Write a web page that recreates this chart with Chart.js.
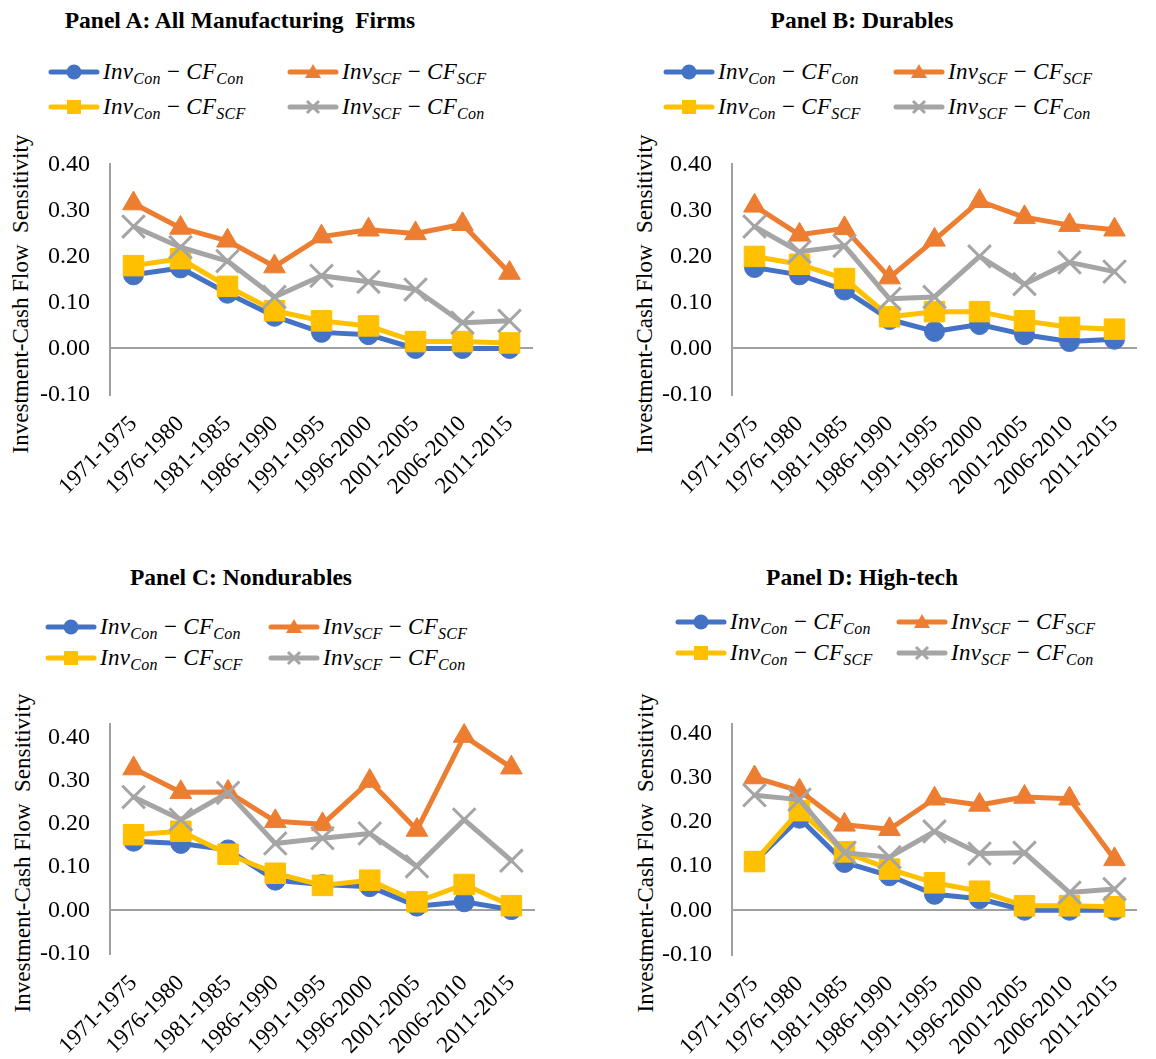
<!DOCTYPE html>
<html>
<head>
<meta charset="utf-8">
<script src="https://cdn.jsdelivr.net/npm/chart.js@4.4.0/dist/chart.umd.min.js"></script>
<style>
  body { margin: 0; background: #fff; }
  #wrap { position: relative; width: 1156px; height: 1059px; overflow: hidden; font-family: "Liberation Serif", Tinos, "Nimbus Roman", "DejaVu Serif", serif; }
  .ptitle { position: absolute; font-weight: bold; font-size: 23.5px; line-height: 1; transform: translateX(-50%); white-space: pre; color: #000; }
  .ytitle { position: absolute; font-size: 23px; line-height: 1; white-space: pre; color: #000; transform: translate(-50%, -50%) rotate(-90deg); }
  .leg { position: absolute; display: flex; align-items: center; height: 30px; white-space: nowrap; font-size: 23px; letter-spacing: 0.3px; color: #000; }
  .leg i { font-style: italic; }
  .leg sub { font-size: 16px; vertical-align: -5px; line-height: 0; }
  .leg svg { margin-right: 3px; }
  canvas { position: absolute; }
</style>
</head>
<body>
<div id="wrap"></div>
<script>
// periods on the x axis
const periods = ['1971-1975', '1976-1980', '1981-1985', '1986-1990', '1991-1995', '1996-2000', '2001-2005', '2006-2010', '2011-2015'];

// Panel A: All Manufacturing Firms
const conConA = [0.16, 0.175, 0.12, 0.07, 0.035, 0.03, 0.0, 0.0, 0.0];
const scfScfA = [0.315, 0.262, 0.234, 0.178, 0.243, 0.258, 0.25, 0.27, 0.164];
const conScfA = [0.18, 0.195, 0.135, 0.082, 0.06, 0.049, 0.015, 0.015, 0.012];
const scfConA = [0.265, 0.22, 0.19, 0.112, 0.158, 0.145, 0.128, 0.056, 0.06];

// Panel B: Durables
const conConB = [0.176, 0.16, 0.127, 0.063, 0.037, 0.052, 0.03, 0.015, 0.02];
const scfScfB = [0.31, 0.247, 0.261, 0.154, 0.236, 0.32, 0.285, 0.268, 0.258];
const conScfB = [0.2, 0.183, 0.152, 0.069, 0.08, 0.08, 0.06, 0.046, 0.042];
const scfConB = [0.265, 0.21, 0.223, 0.108, 0.112, 0.2, 0.14, 0.187, 0.167];

// Panel C: Nondurables
const conConC = [0.16, 0.155, 0.14, 0.07, 0.06, 0.055, 0.01, 0.02, 0.002];
const scfScfC = [0.328, 0.273, 0.274, 0.206, 0.199, 0.299, 0.186, 0.403, 0.33];
const conScfC = [0.175, 0.183, 0.13, 0.086, 0.058, 0.07, 0.02, 0.06, 0.011];
const scfConC = [0.262, 0.21, 0.272, 0.155, 0.167, 0.178, 0.102, 0.21, 0.115];

// Panel D: High-tech
const conConD = [0.11, 0.208, 0.108, 0.078, 0.036, 0.026, 0.0, 0.0, 0.0];
const scfScfD = [0.3, 0.27, 0.193, 0.183, 0.252, 0.238, 0.256, 0.252, 0.115];
const conScfD = [0.11, 0.225, 0.132, 0.093, 0.062, 0.043, 0.01, 0.01, 0.008];
const scfConD = [0.26, 0.25, 0.13, 0.12, 0.178, 0.128, 0.13, 0.04, 0.048];

const yTicks = [-0.1, 0.0, 0.1, 0.2, 0.3, 0.4];
const yTitle = 'Investment-Cash Flow  Sensitivity';

const FONT = '"Liberation Serif", Tinos, "Nimbus Roman", "DejaVu Serif", serif';
const AXIS_GRAY = '#a0a0a0';

// series look, in Excel series order (later ones drawn on top)
const seriesStyle = [
  { sub1: 'Con', sub2: 'Con', color: '#4472C4', pointStyle: 'circle', radius: 10, bw: 1, order: 4 },
  { sub1: 'SCF', sub2: 'SCF', color: '#ED7D31', pointStyle: 'triangle', radius: 12.5, bw: 1, order: 3 },
  { sub1: 'Con', sub2: 'SCF', color: '#FFC000', pointStyle: 'rect', radius: 14.5, bw: 1, order: 2 },
  { sub1: 'SCF', sub2: 'Con', color: '#A5A5A5', pointStyle: 'crossRot', radius: 16, bw: 3, order: 1 }
];

const panels = [
  { title: 'Panel A: All Manufacturing  Firms', data: [conConA, scfScfA, conScfA, scfConA], yMax: 0.4,
    box: { left: 0, top: 130, w: 560, h: 400 }, padTop: 33, padRight: 27, yW: 110, xH: 135.5,
    titleX: 240, titleY: 9, legX: [48, 287], legY: [72, 107], yTitleX: 20, yTitleY: 294 },
  { title: 'Panel B: Durables', data: [conConB, scfScfB, conScfB, scfConB], yMax: 0.4,
    box: { left: 578, top: 130, w: 578, h: 400 }, padTop: 33, padRight: 8, yW: 154, xH: 135.5,
    titleX: 862, titleY: 9, legX: [663, 893], legY: [72, 107], yTitleX: 644, yTitleY: 294 },
  { title: 'Panel C: Nondurables', data: [conConC, scfScfC, conScfC, scfConC], yMax: 0.43,
    box: { left: 0, top: 690, w: 560, h: 369 }, padTop: 32, padRight: 25, yW: 110, xH: 105.25,
    titleX: 241, titleY: 566, legX: [45, 268], legY: [627, 658], yTitleX: 22, yTitleY: 853 },
  { title: 'Panel D: High-tech', data: [conConD, scfScfD, conScfD, scfConD], yMax: 0.42,
    box: { left: 578, top: 690, w: 578, h: 369 }, padTop: 33, padRight: 8, yW: 154, xH: 104.5,
    titleX: 862, titleY: 566, legX: [675, 896], legY: [622, 653], yTitleX: 645, yTitleY: 853 }
];

const wrap = document.getElementById('wrap');

function markerSvg(s) {
  const c = s.color;
  let m = '';
  if (s.pointStyle === 'circle') m = `<circle cx="26" cy="10" r="7.5" fill="${c}"/>`;
  if (s.pointStyle === 'rect') m = `<rect x="19" y="3" width="14" height="14" fill="${c}"/>`;
  if (s.pointStyle === 'triangle') m = `<polygon points="26,2 34,16 18,16" fill="${c}"/>`;
  if (s.pointStyle === 'crossRot') m = `<path d="M20 4 L32 16 M32 4 L20 16" stroke="${c}" stroke-width="3"/>`;
  return `<svg width="52" height="20" viewBox="0 0 52 20"><line x1="3" y1="10" x2="49" y2="10" stroke="${c}" stroke-width="5" stroke-linecap="round"/>${m}</svg>`;
}

function addLegend(p) {
  // Excel lays the legend out row by row: blue, orange / yellow, gray
  seriesStyle.forEach((s, i) => {
    const el = document.createElement('div');
    el.className = 'leg';
    el.style.left = p.legX[i % 2] + 'px';
    el.style.top = (p.legY[Math.floor(i / 2)] - 15) + 'px';
    el.innerHTML = markerSvg(s) +
      `<span><i>Inv</i><sub><i>${s.sub1}</i></sub> &minus; <i>CF</i><sub><i>${s.sub2}</i></sub></span>`;
    wrap.appendChild(el);
  });
}

function addPanel(p) {
  const t = document.createElement('div');
  t.className = 'ptitle';
  t.textContent = p.title;
  t.style.left = p.titleX + 'px';
  t.style.top = p.titleY + 'px';
  wrap.appendChild(t);

  const yt = document.createElement('div');
  yt.className = 'ytitle';
  yt.textContent = yTitle;
  yt.style.left = p.yTitleX + 'px';
  yt.style.top = p.yTitleY + 'px';
  wrap.appendChild(yt);

  addLegend(p);

  const canvas = document.createElement('canvas');
  canvas.width = p.box.w;
  canvas.height = p.box.h;
  canvas.style.left = p.box.left + 'px';
  canvas.style.top = p.box.top + 'px';
  wrap.appendChild(canvas);

  const datasets = seriesStyle.map((s, i) => ({
    label: `Inv_${s.sub1} − CF_${s.sub2}`,
    data: p.data[i],
    borderColor: s.color,
    backgroundColor: s.color,
    borderWidth: 5,
    borderJoinStyle: 'round',
    borderCapStyle: 'round',
    tension: 0,
    pointStyle: s.pointStyle,
    pointRadius: s.radius,
    pointBorderWidth: s.bw,
    pointBorderColor: s.color,
    pointBackgroundColor: s.color,
    order: s.order,
    clip: false
  }));

  new Chart(canvas.getContext('2d'), {
    type: 'line',
    data: { labels: periods, datasets: datasets },
    options: {
      responsive: false,
      animation: false,
      layout: { padding: { top: p.padTop, right: p.padRight, left: 0, bottom: 0 } },
      plugins: { legend: { display: false }, tooltip: { enabled: false } },
      scales: {
        x: {
          offset: true,
          grid: { display: false },
          border: { display: false },
          ticks: { autoSkip: false, minRotation: 45, maxRotation: 45, padding: 8, color: '#000', font: { family: FONT, size: 23 } },
          afterFit: (scale) => { scale.height = p.xH; }
        },
        y: {
          min: yTicks[0],
          max: p.yMax,
          afterFit: (scale) => { scale.width = p.yW; },
          afterBuildTicks: (scale) => { scale.ticks = yTicks.map(v => ({ value: v })); },
          ticks: { padding: 20, color: '#000', font: { family: FONT, size: 24 }, callback: (v) => Number(v).toFixed(2) },
          grid: {
            drawTicks: false,
            lineWidth: 2,
            color: (c) => (c.tick && Math.abs(c.tick.value) < 1e-9 ? AXIS_GRAY : 'rgba(0,0,0,0)')
          },
          border: { display: true, color: AXIS_GRAY, width: 2 }
        }
      }
    }
  });
}

Chart.defaults.font.family = FONT;
panels.forEach(addPanel);
</script>
</body>
</html>
